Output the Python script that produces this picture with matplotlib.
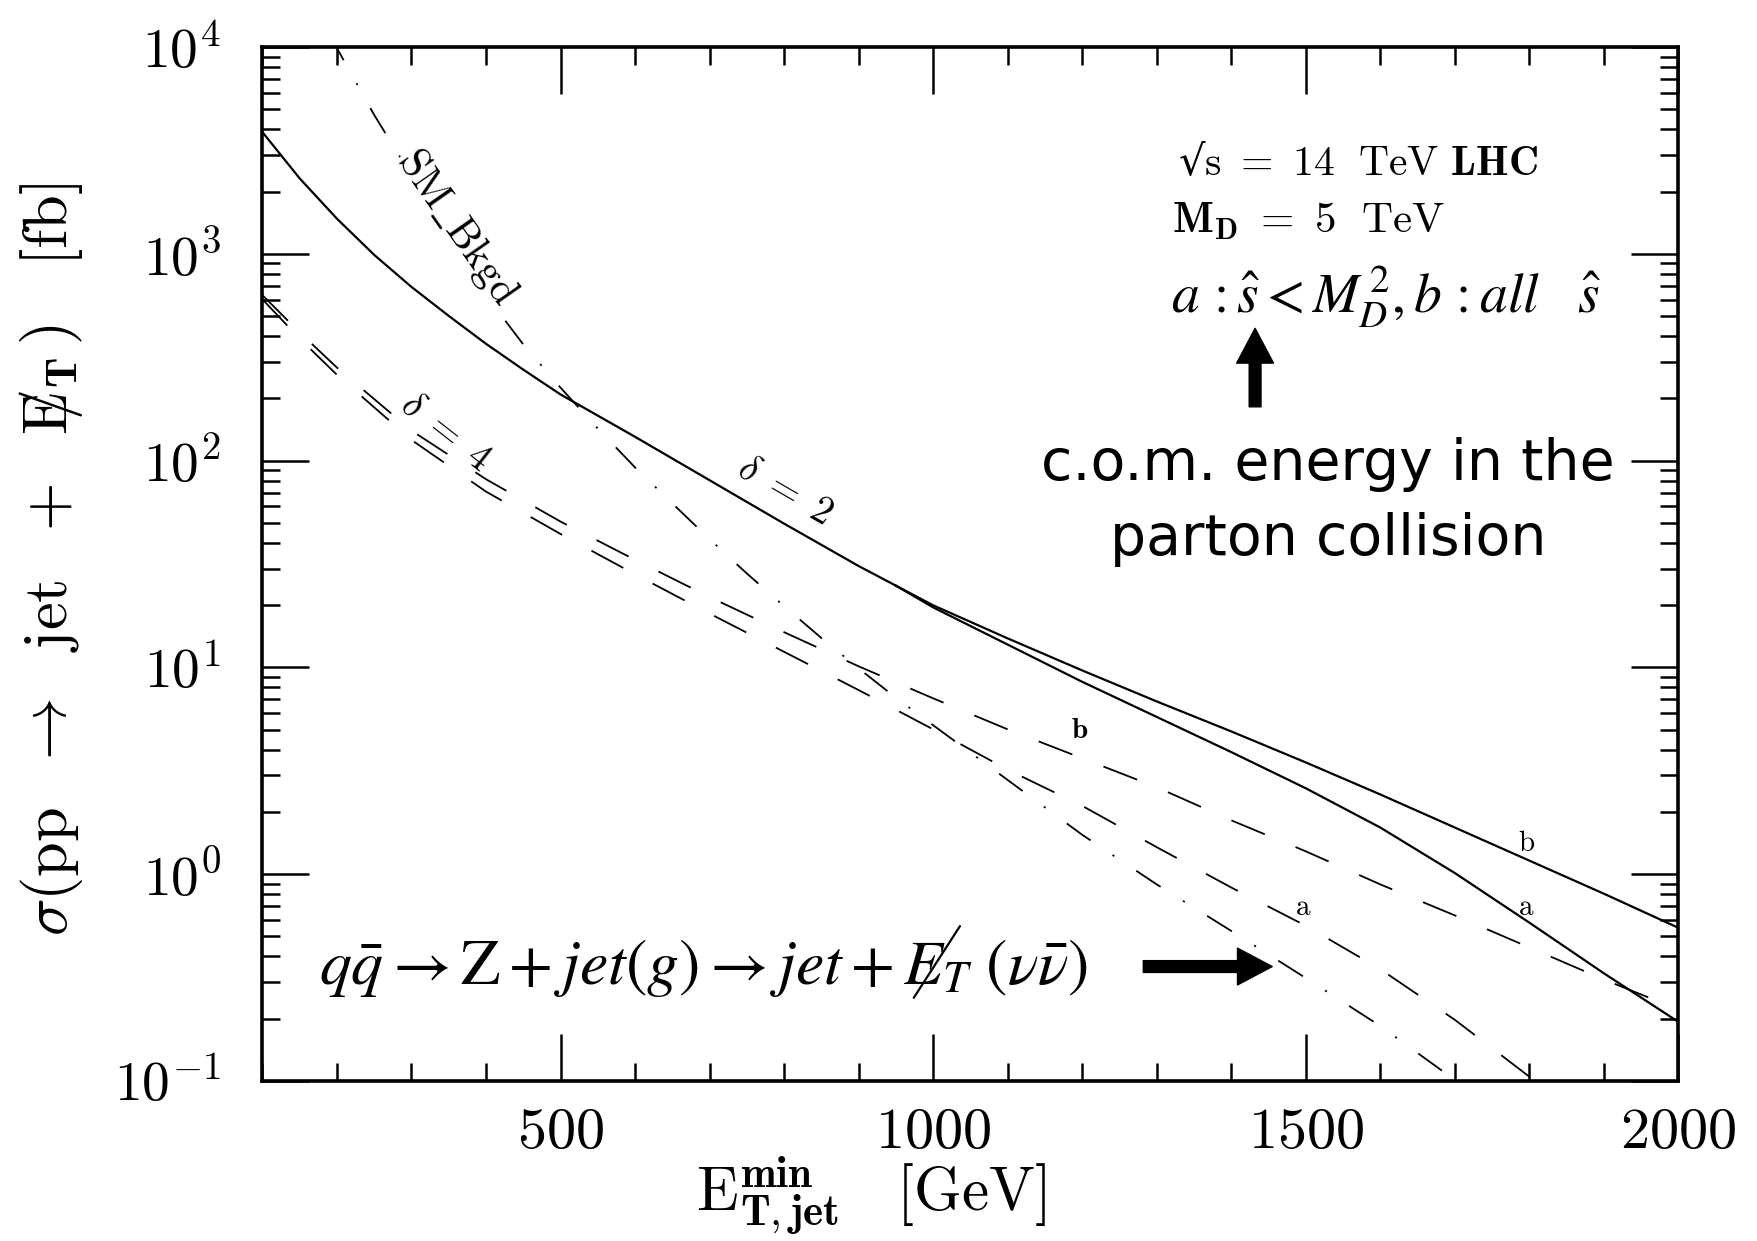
import math
import matplotlib
matplotlib.use("Agg")
import matplotlib.pyplot as plt
from matplotlib.ticker import MultipleLocator, FuncFormatter, LogLocator, NullFormatter

plt.rcParams['mathtext.fontset'] = 'cm'
plt.rcParams['lines.scale_dashes'] = False

# delta = 2 (solid), common part then the a / b branches -- log10(sigma / fb)
x_d2 = [100, 150, 200, 250, 300, 350, 400, 450, 500, 600, 700, 800, 900, 950]
y_d2 = [3.589, 3.365, 3.17, 2.995, 2.84, 2.70, 2.565, 2.44, 2.32, 2.115, 1.905, 1.695, 1.49, 1.395]
x_d2_tail = [950, 1000, 1100, 1200, 1300, 1400, 1500, 1600, 1700, 1800, 1900, 2000]
y_d2b_tail = [1.395, 1.30, 1.14, 0.985, 0.835, 0.69, 0.54, 0.385, 0.225, 0.065, -0.095, -0.26]
y_d2a_tail = [1.395, 1.29, 1.11, 0.93, 0.76, 0.59, 0.415, 0.225, 0.005, -0.235, -0.48, -0.715]

# delta = 4 (dashed), b = all s-hat, a = s-hat < M_D^2
x_d4b = [100, 150, 200, 300, 400, 500, 600, 700, 800, 900, 1000, 1100, 1200, 1300,
         1400, 1500, 1600, 1700, 1800, 1900, 2000]
y_d4b = [2.80, 2.62, 2.45, 2.145, 1.91, 1.705, 1.52, 1.34, 1.17, 1.005, 0.85, 0.70, 0.56,
         0.42, 0.26, 0.11, -0.05, -0.20, -0.355, -0.51, -0.655]
x_d4a = [100, 150, 200, 300, 400, 500, 600, 700, 800, 900, 1000, 1100, 1200, 1300,
         1400, 1500, 1600, 1700, 1800, 1850]
y_d4a = [2.78, 2.59, 2.415, 2.10, 1.85, 1.645, 1.45, 1.26, 1.075, 0.89, 0.70, 0.505, 0.33,
         0.13, -0.065, -0.25, -0.46, -0.705, -0.98, -1.12]

# SM background (dash-dot)
x_sm = [190, 200, 250, 300, 350, 400, 450, 500, 550, 600, 650, 700, 750, 800, 850, 900,
        950, 1000, 1100, 1200, 1300, 1400, 1500, 1600, 1700, 1750]
y_sm = [4.06, 3.995, 3.672, 3.378, 3.09, 2.80, 2.562, 2.353, 2.155, 1.967, 1.793, 1.62,
        1.454, 1.296, 1.142, 0.995, 0.853, 0.72, 0.455, 0.19, -0.05, -0.275, -0.503,
        -0.735, -0.996, -1.13]

x_ticks = [500, 1000, 1500, 2000]


def lin(v):
    return [10 ** t for t in v]


fig = plt.figure(figsize=(17.58, 12.41), dpi=100)
ax = fig.add_axes([262.4 / 1758, 1 - 1080.8 / 1241, 1416 / 1758, 1033.7 / 1241])
ax.set_yscale('log')
ax.set_xlim(100, 2000)
ax.set_ylim(0.1, 1e4)

lw = 1.6
ax.plot(x_d2, lin(y_d2), color='black', lw=lw, zorder=3)
ax.plot(x_d2_tail, lin(y_d2b_tail), color='black', lw=lw, zorder=3)
ax.plot(x_d2_tail, lin(y_d2a_tail), color='black', lw=lw, zorder=3)
ax.plot(x_d4b, lin(y_d4b), color='black', lw=1.3, dashes=(26, 24), zorder=3)
ax.plot(x_d4a, lin(y_d4a), color='black', lw=1.3, dashes=(26, 24), zorder=3)
ax.plot(x_sm, lin(y_sm), color='black', lw=1.3, dashes=(21, 19, 1.5, 19), zorder=1)

# ticks
ax.xaxis.set_major_locator(plt.FixedLocator(x_ticks))
ax.xaxis.set_minor_locator(MultipleLocator(100))
ax.xaxis.set_major_formatter(FuncFormatter(lambda v, p: r'$%d$' % v))
ax.yaxis.set_major_locator(LogLocator(base=10, numticks=10))
ax.yaxis.set_major_formatter(FuncFormatter(lambda v, p: r'$10^{%d}$' % round(math.log10(v))))
ax.yaxis.set_minor_locator(LogLocator(base=10, subs=range(2, 10), numticks=20))
ax.yaxis.set_minor_formatter(NullFormatter())
ax.tick_params(which='both', direction='in', top=True, right=True, width=1.8)
ax.tick_params(which='major', length=34)
ax.tick_params(which='minor', length=13)
ax.tick_params(axis='x', labelsize=42, pad=16)
ax.tick_params(axis='y', labelsize=40, pad=30)
for s in ax.spines.values():
    s.set_linewidth(2.6)

# curve labels
ax.text(361, 1349, r'$\mathrm{SM\_Bkgd}$', rotation=-55, ha='center', va='center',
        fontsize=30, zorder=2,
        bbox=dict(facecolor='white', edgecolor='none', pad=0))
ax.text(802, 72, r'$\delta\ =\ 2$', rotation=-30, ha='center', va='center', fontsize=28)
ax.text(347, 137, r'$\delta\ =\ 4$', rotation=-38, ha='center', va='center', fontsize=28)
ax.text(1197, 4.97, r'$\mathbf{b}$', ha='center', va='center', fontsize=21)
ax.text(1497, 0.695, r'$\mathrm{a}$', ha='center', va='center', fontsize=21)
ax.text(1796, 1.41, r'$\mathrm{b}$', ha='center', va='center', fontsize=21)
ax.text(1796, 0.695, r'$\mathrm{a}$', ha='center', va='center', fontsize=21)

# info block
ax.text(1328, 2405, '√' + r'$\mathrm{s}\ =\ 14\ \ \mathrm{TeV}\ \mathbf{LHC}$',
        ha='left', va='baseline', fontsize=30, family='DejaVu Serif')
ax.text(1320, 1262, r'$\mathbf{M_D}\ =\ 5\ \ \mathrm{TeV}$', ha='left', va='baseline', fontsize=31)
ax.text(1319, 516, r'$a\,:\hat{s}<M_D^{\,2},b\,:all\ \ \ \hat{s}$', ha='left', va='baseline',
        fontsize=40, math_fontfamily='stix')
ax.annotate('', xy=(1432, 436), xytext=(1432, 182),
            arrowprops=dict(arrowstyle='simple,head_length=0.5,head_width=0.53,tail_width=0.17',
                            mutation_scale=50, color='black', shrinkA=0, shrinkB=0))
ax.text(1530, 80.5, 'c.o.m. energy in the', ha='center', va='baseline', fontsize=41)
ax.text(1530, 34.9, 'parton collision', ha='center', va='baseline', fontsize=41)

# process label, with a long slash through the E of the missing E_T
ax.text(176, 0.294,
        r'$q\bar{q}\rightarrow \mathrm{Z}+jet\left(g\right)\rightarrow jet+E_T\ \left(\nu\bar{\nu}\right)$',
        ha='left', va='baseline', fontsize=46, math_fontfamily='stix')
ax.annotate('', xy=(1036, 0.56), xytext=(974, 0.252),
            arrowprops=dict(arrowstyle='-', lw=1.6, color='black', shrinkA=0, shrinkB=0))
ax.annotate('', xy=(1455, 0.357), xytext=(1282, 0.357),
            arrowprops=dict(arrowstyle='simple,head_length=0.5,head_width=0.53,tail_width=0.17',
                            mutation_scale=50, color='black', shrinkA=0, shrinkB=0))

# axis labels
fig.text(0.029, 0.549,
         r'$\sigma(\mathrm{pp}\ \ \rightarrow\ \ \mathrm{jet}\ \ +\ \ \mathrm{E}\!\!\!/_{\mathbf{T}}\,)\ \ \ [\mathrm{fb}]$',
         rotation=90, ha='center', va='center', fontsize=45)
fig.text(0.4956, 0.036, r'$\mathrm{E}_{\mathbf{T,jet}}^{\mathbf{min}}\ \ \ [\mathrm{GeV}]$',
         ha='center', va='center', fontsize=44)

fig.savefig('out.png', dpi=100)
